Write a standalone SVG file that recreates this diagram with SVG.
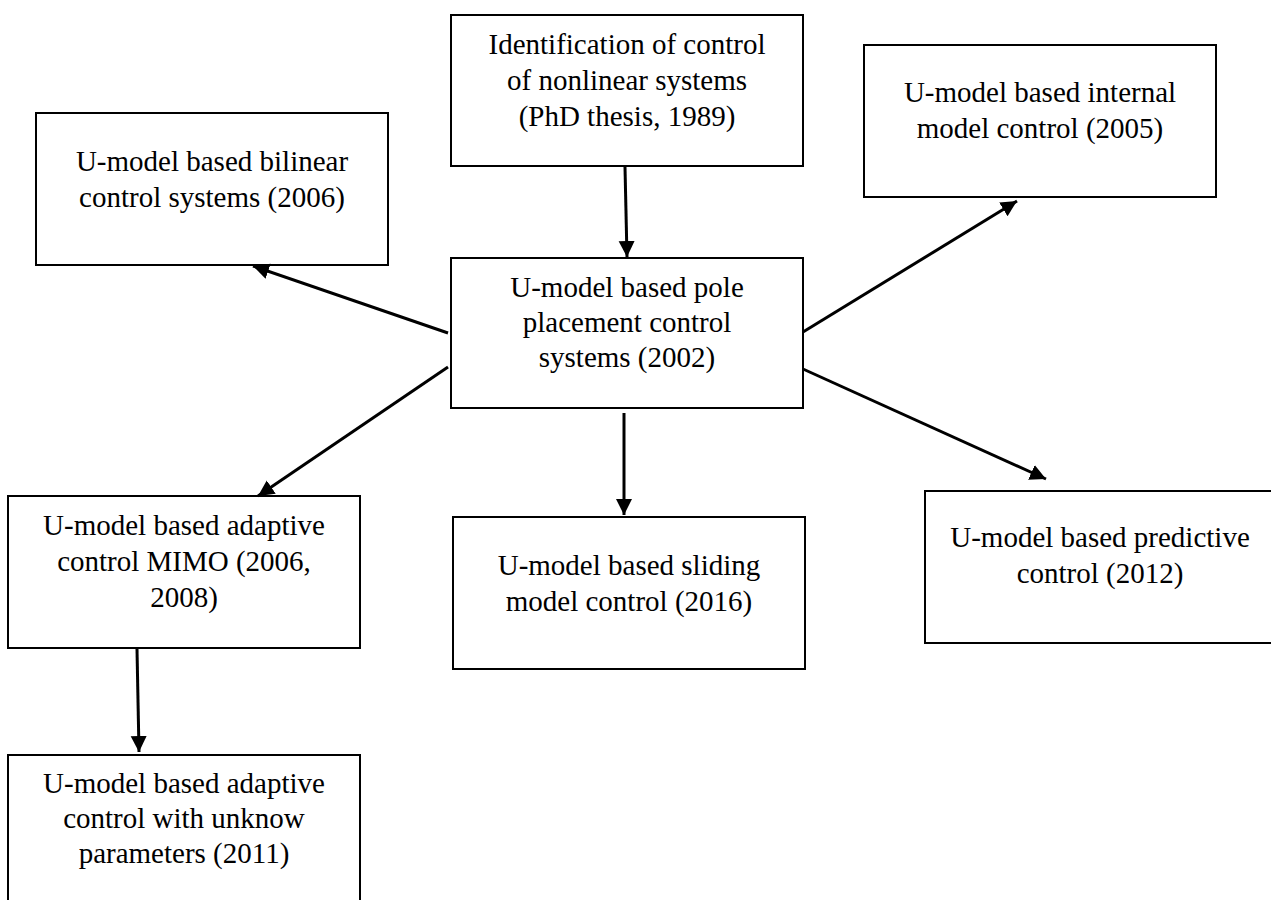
<svg xmlns="http://www.w3.org/2000/svg" width="1271" height="900" viewBox="0 0 1271 900">
<style>
.box{fill:#fff;stroke:#000;stroke-width:2}
.lbl{font-family:"Liberation Serif","Times New Roman",serif;font-size:29px;fill:#000;text-anchor:middle}
.conn{stroke:#000;stroke-width:3;fill:none;marker-end:url(#arr)}
</style>
<defs>
<marker id="arr" markerUnits="userSpaceOnUse" markerWidth="18" markerHeight="18" refX="16" refY="8" orient="auto">
<path d="M0,0 L16,8 L0,16 Z" fill="#000"/>
</marker>
</defs>
<rect width="1271" height="900" fill="#fff"/>
<g id="n_ident">
<rect class="box" x="451" y="15" width="352" height="151"/>
<text class="lbl" x="627" y="54">Identification of control</text>
<text class="lbl" x="627" y="90">of nonlinear systems</text>
<text class="lbl" x="627" y="126">(PhD thesis, 1989)</text>
</g>
<g id="n_pole">
<rect class="box" x="451" y="258" width="352" height="150"/>
<text class="lbl" x="627" y="297">U-model based pole</text>
<text class="lbl" x="627" y="332">placement control</text>
<text class="lbl" x="627" y="367">systems (2002)</text>
</g>
<g id="n_bilinear">
<rect class="box" x="36" y="113" width="352" height="152"/>
<text class="lbl" x="212" y="171">U-model based bilinear</text>
<text class="lbl" x="212" y="207">control systems (2006)</text>
</g>
<g id="n_internal">
<rect class="box" x="864" y="45" width="352" height="152"/>
<text class="lbl" x="1040" y="102">U-model based internal</text>
<text class="lbl" x="1040" y="138">model control (2005)</text>
</g>
<g id="n_mimo">
<rect class="box" x="8" y="496" width="352" height="152"/>
<text class="lbl" x="184" y="535">U-model based adaptive</text>
<text class="lbl" x="184" y="571">control MIMO (2006,</text>
<text class="lbl" x="184" y="607">2008)</text>
</g>
<g id="n_sliding">
<rect class="box" x="453" y="517" width="352" height="152"/>
<text class="lbl" x="629" y="575">U-model based sliding</text>
<text class="lbl" x="629" y="611">model control (2016)</text>
</g>
<g id="n_predictive">
<rect class="box" x="925" y="491" width="352" height="152"/>
<text class="lbl" x="1100" y="547">U-model based predictive</text>
<text class="lbl" x="1100" y="583">control (2012)</text>
</g>
<g id="n_unknown">
<rect class="box" x="8" y="755" width="352" height="155"/>
<text class="lbl" x="184" y="793">U-model based adaptive</text>
<text class="lbl" x="184" y="828">control with unknow</text>
<text class="lbl" x="184" y="863">parameters (2011)</text>
</g>
<g id="connectors">
<line class="conn" x1="625" y1="167" x2="627" y2="257"/>
<line class="conn" x1="448" y1="333" x2="253" y2="266"/>
<line class="conn" x1="448" y1="367" x2="258" y2="496"/>
<line class="conn" x1="803" y1="332" x2="1017" y2="201"/>
<line class="conn" x1="624" y1="413" x2="624" y2="515"/>
<line class="conn" x1="803" y1="369" x2="1046" y2="479"/>
<line class="conn" x1="137" y1="649" x2="139" y2="752"/>
</g>
</svg>
